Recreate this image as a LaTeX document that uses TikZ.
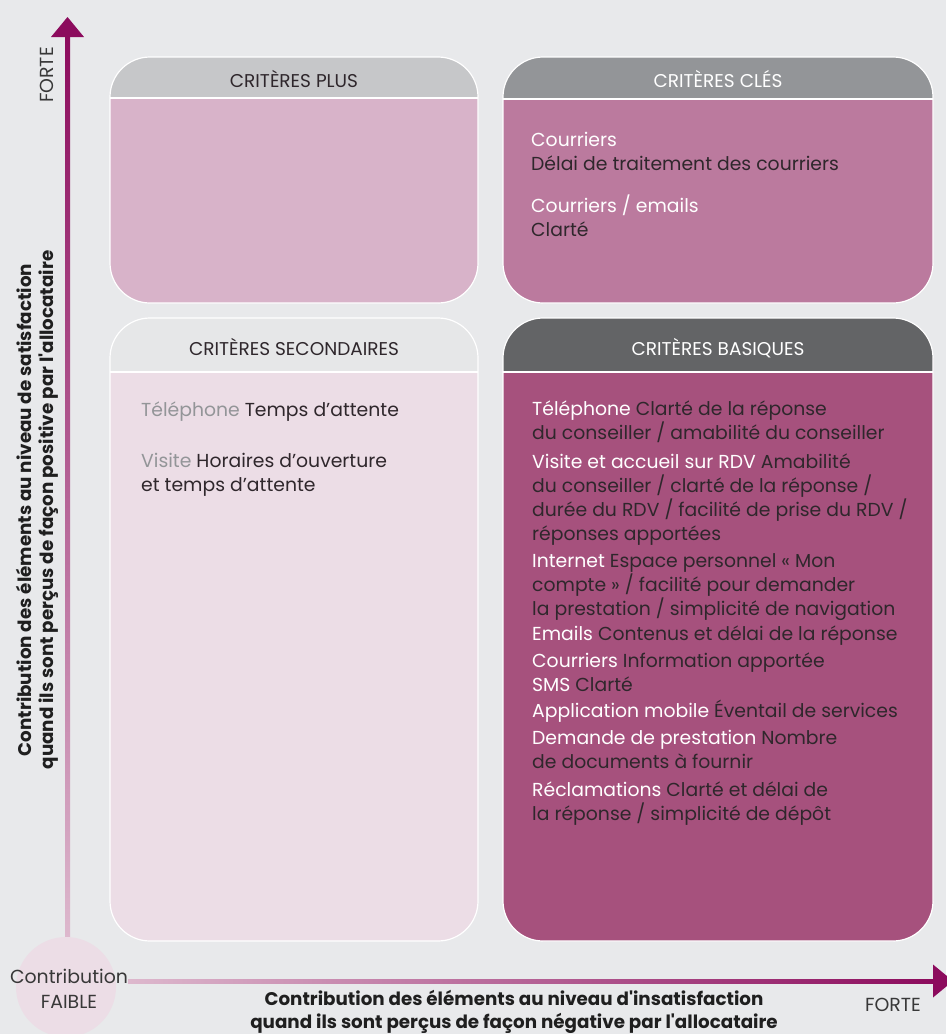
\documentclass[tikz,border=0pt]{standalone}
\usepackage{fontspec}
\setmainfont{Poppins}
\usetikzlibrary{positioning}

\definecolor{bg}{HTML}{E8E9EB}
\definecolor{plusbody}{HTML}{D8B3C9}
\definecolor{plushead}{HTML}{C6C7C9}
\definecolor{clesbody}{HTML}{BB7A9E}
\definecolor{cleshead}{HTML}{939598}
\definecolor{secbody}{HTML}{ECDDE6}
\definecolor{sechead}{HTML}{E6E7E8}
\definecolor{basbody}{HTML}{A6517D}
\definecolor{bashead}{HTML}{636466}
\definecolor{axisdark}{HTML}{8C0B5D}
\definecolor{axislight}{HTML}{DDB8CD}
\definecolor{ink}{HTML}{2F272C}
\definecolor{labgray}{HTML}{939598}

\newcommand{\lab}[1]{\textcolor{white}{#1}}
\newcommand{\glab}[1]{\textcolor{labgray}{#1}}

\begin{document}
\begin{tikzpicture}[x=1pt,y=-1pt,
  quadrant/.style={rounded corners=40pt,inner sep=0pt,outer sep=0pt},
  title/.style={anchor=base,inner sep=0pt,font=\fontsize{18.5}{22}\selectfont},
  item/.style={anchor=base west,align=left,inner sep=0pt,text=ink,font=\fontsize{18.8}{24}\selectfont},
  axislabel/.style={align=center,inner sep=0pt,text=black!88,font=\bfseries\fontsize{18.3}{22.5}\selectfont},
  scalelabel/.style={inner sep=0pt,text=black!78,font=\fontsize{18.9}{22}\selectfont}]

\fill[bg] (0,0) rectangle (946,1034);
\useasboundingbox (0,0) rectangle (946,1034);

% the four quadrants
\node[quadrant,fill=plusbody,minimum width=368pt,minimum height=246pt] (plus) at (294,180) {};
\node[quadrant,fill=clesbody,minimum width=430pt,minimum height=246pt,right=25pt of plus] (cles) {};
\node[quadrant,fill=secbody,minimum width=368pt,minimum height=623pt,below=15pt of plus] (sec) {};
\node[quadrant,fill=basbody,minimum width=430pt,minimum height=623pt,below=15pt of cles] (bas) {};

% header bands
\foreach \q/\c/\h in {plus/plushead/41,cles/cleshead/42,sec/sechead/54,bas/bashead/54}{
  \begin{scope}
    \clip[rounded corners=40pt] (\q.north west) rectangle (\q.south east);
    \fill[\c] (\q.north west) rectangle ([yshift=-\h pt]\q.north east);
  \end{scope}
  \draw[white,line width=2.4pt] ([yshift=-\h pt]\q.north west) -- ([yshift=-\h pt]\q.north east);
  \draw[white,line width=1.2pt,rounded corners=40pt] (\q.north west) rectangle (\q.south east);
}

\node[title,text=ink] (plus title) at ([yshift=-30pt]plus.north) {CRITÈRES PLUS};
\node[title,text=white] (cles title) at ([yshift=-30pt]cles.north) {CRITÈRES CLÉS};
\node[title,text=ink] (sec title) at ([yshift=-37pt]sec.north) {CRITÈRES SECONDAIRES};
\node[title,text=white] (bas title) at ([yshift=-37pt]bas.north) {CRITÈRES BASIQUES};

% criteres cles
\node[item] (cles1) at (531,170) {\lab{Courriers}\\Délai de traitement des courriers};
\node[item] (cles2) at (531,236) {\lab{Courriers / emails}\\Clarté};

% criteres secondaires
\node[item] (sec1) at (141,416) {\glab{Téléphone} Temps d’attente};
\node[item] (sec2) at (141,491) {\glab{Visite} Horaires d’ouverture\\et temps d’attente};

% criteres basiques
\node[item] (bas1) at (532,439) {\lab{Téléphone} Clarté de la réponse\\du conseiller / amabilité du conseiller};
\node[item] (bas2) at (532,540) {\lab{Visite et accueil sur RDV} Amabilité\\du conseiller / clarté de la réponse /\\durée du RDV / facilité de prise du RDV /\\réponses apportées};
\node[item] (bas3) at (532,615) {\lab{Internet} Espace personnel « Mon\\compte » / facilité pour demander\\la prestation / simplicité de navigation};
\node[item] (bas4) at (532,640) {\lab{Emails} Contenus et délai de la réponse};
\node[item] (bas5) at (532,667) {\lab{Courriers} Information apportée};
\node[item] (bas6) at (532,691) {\lab{SMS} Clarté};
\node[item] (bas7) at (532,717) {\lab{Application mobile} Éventail de services};
\node[item] (bas8) at (532,768) {\lab{Demande de prestation} Nombre\\de documents à fournir};
\node[item] (bas9) at (532,820) {\lab{Réclamations} Clarté et délai de\\la réponse / simplicité de dépôt};

% axes
\node[circle,fill=secbody,minimum size=100pt,inner sep=0pt] (orig) at (66,987) {};
\node[scalelabel,anchor=base] (contrib) at (69,983) {Contribution};
\node[scalelabel,anchor=base] (faible) at (69,1008) {FAIBLE};
\coordinate (ytip) at (67.5,17);
\coordinate (xtip) at (953,981);
\coordinate (xo) at (contrib.east |- xtip);

\shade[bottom color=axislight,top color=axisdark] ([xshift=-2.5pt]orig.north -| ytip) rectangle ([xshift=2.5pt,yshift=-20pt]ytip);
\fill[axisdark] ([xshift=-16.5pt,yshift=-20pt]ytip) -- (ytip) -- ([xshift=16.5pt,yshift=-20pt]ytip) -- cycle;
\shade[left color=axislight,right color=axisdark] ([yshift=2pt]xo) rectangle ([xshift=-20pt,yshift=-2pt]xtip);
\fill[axisdark] ([xshift=-20pt,yshift=16.5pt]xtip) -- (xtip) -- ([xshift=-20pt,yshift=-16.5pt]xtip) -- cycle;

\node[scalelabel,anchor=base] (xforte) at (893,1011) {FORTE};
\node[scalelabel,anchor=base,rotate=90] (yforte) at (53,75) {FORTE};

\node[axislabel,anchor=base,rotate=90] (ylabel) at (53.5,510) {Contribution des éléments au niveau de satisfaction\\quand ils sont perçus de façon positive par l\textquotesingle allocataire};
\node[axislabel,anchor=base] (xlabel) at (514,1028) {Contribution des éléments au niveau d\textquotesingle insatisfaction\\quand ils sont perçus de façon négative par l\textquotesingle allocataire};
\end{tikzpicture}
\end{document}
